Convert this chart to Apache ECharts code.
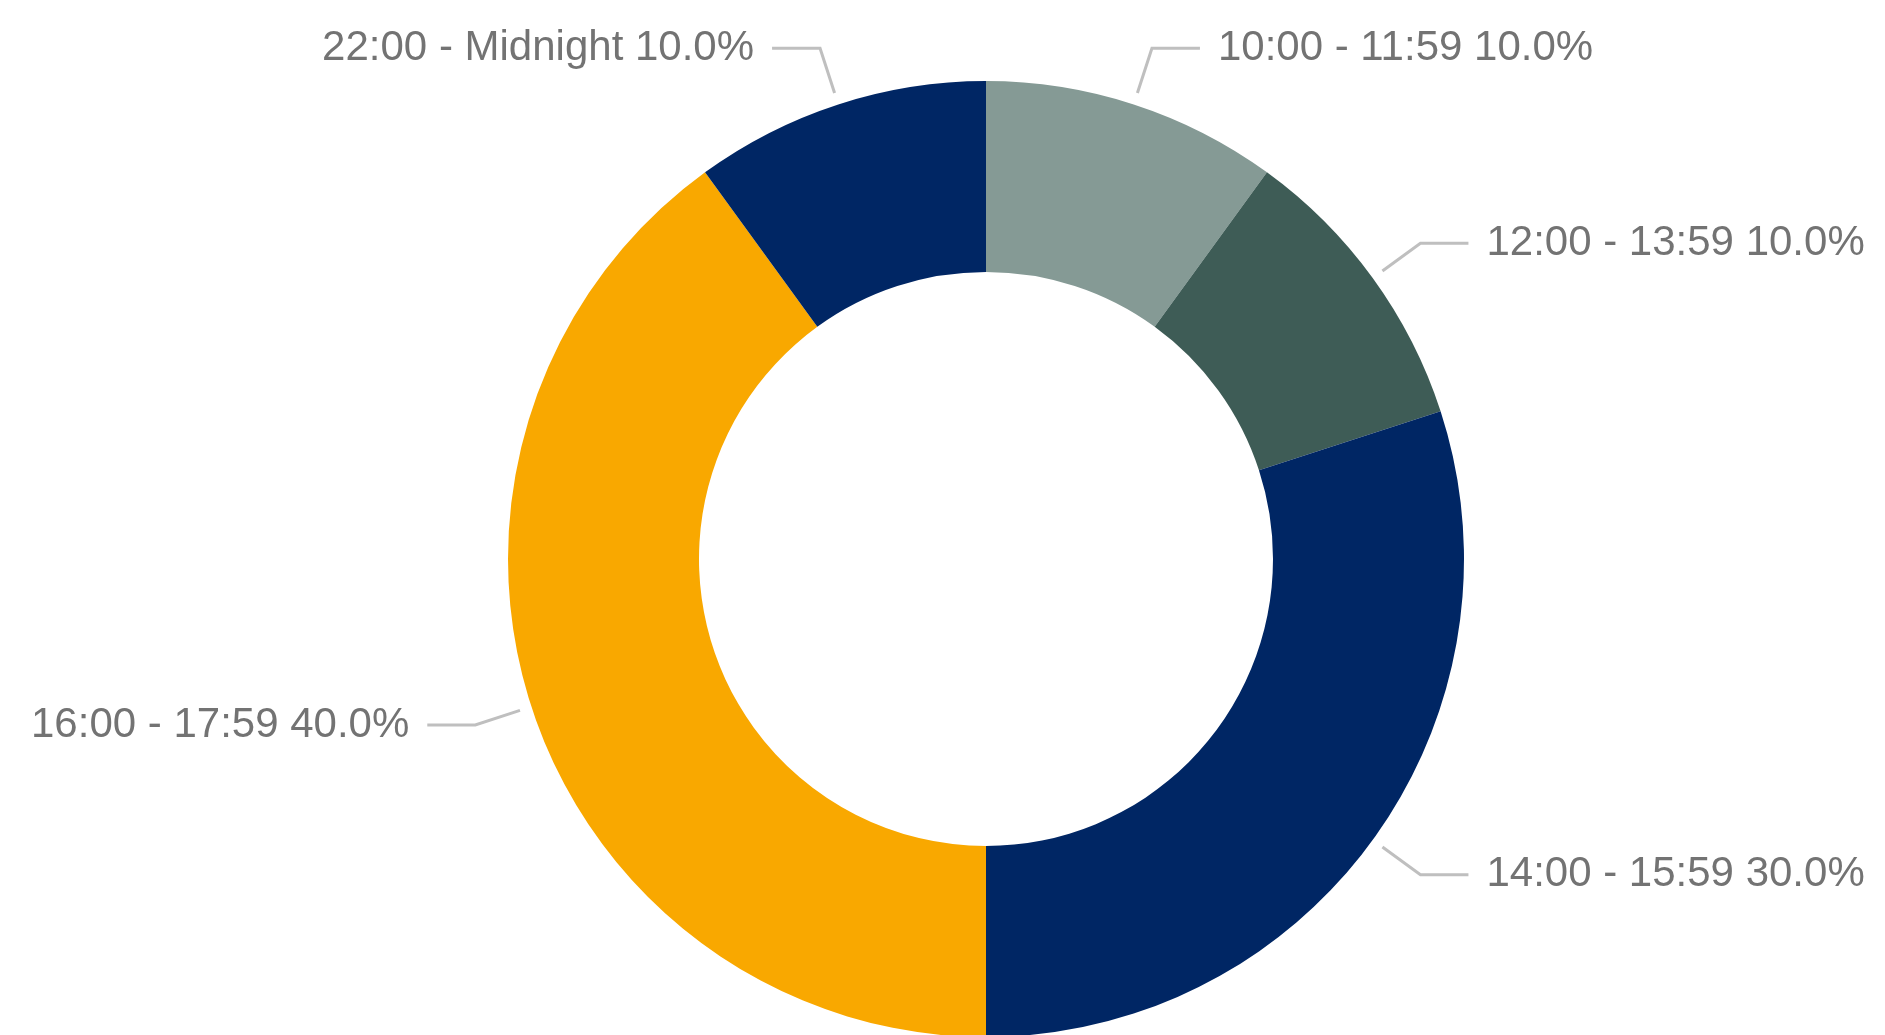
<!DOCTYPE html>
<html>
<head>
<meta charset="utf-8">
<script src="https://cdn.jsdelivr.net/npm/echarts@6/dist/echarts.min.js"></script>
<style>
html,body{margin:0;padding:0;background:#fff;}
#chart{width:1885px;height:1035px;}
</style>
</head>
<body>
<div id="chart"></div>
<script>
const categories = ['10:00 - 11:59', '12:00 - 13:59', '14:00 - 15:59', '16:00 - 17:59', '22:00 - Midnight'];
const values = [10, 10, 30, 40, 10];
const colors = ['#859A95', '#3E5C56', '#002664', '#F9A800', '#002664'];

const total = values.reduce((a, b) => a + b, 0);
const data = categories.map((c, i) => ({ name: c, value: values[i], itemStyle: { color: colors[i] } }));
const labelData = categories.map((c, i) => ({ name: c, value: values[i] }));

const chart = echarts.init(document.getElementById('chart'), null, { renderer: 'canvas' });
chart.setOption({
  animation: false,
  backgroundColor: '#ffffff',
  series: [
    {
      type: 'pie',
      center: [986, 559],
      radius: [287, 478],
      startAngle: 90,
      clockwise: true,
      label: { show: false },
      labelLine: { show: false },
      data: data,
      silent: true
    },
    {
      type: 'pie',
      center: [986, 559],
      radius: [0, 490],
      startAngle: 90,
      clockwise: true,
      silent: true,
      avoidLabelOverlap: false,
      itemStyle: { color: 'rgba(0,0,0,0)' },
      label: {
        show: true,
        position: 'outside',
        fontFamily: 'Liberation Sans, Arial, sans-serif',
        fontSize: 42,
        color: '#737373',
        padding: [5, 0, 0, 0],
        distanceToLabelLine: 18,
        formatter: p => p.name + ' ' + (p.value / total * 100).toFixed(1) + '%'
      },
      labelLine: {
        show: true,
        length: 47,
        length2: 48,
        lineStyle: { color: '#BFBFBF', width: 3 }
      },
      data: labelData
    }
  ]
});
</script>
</body>
</html>
